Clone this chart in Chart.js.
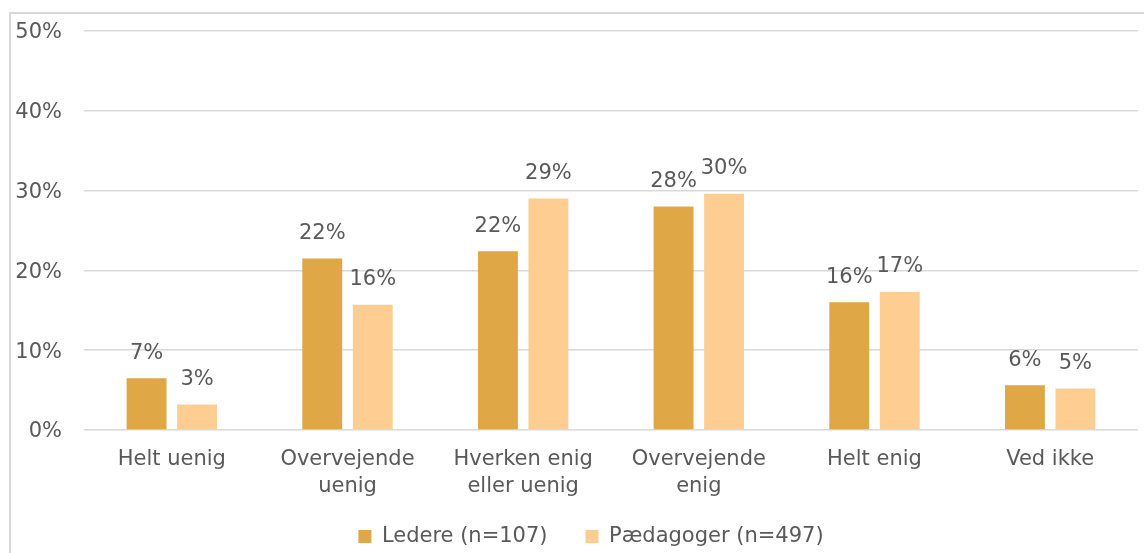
<!DOCTYPE html>
<html>
<head>
<meta charset="utf-8">
<script src="https://cdn.jsdelivr.net/npm/chart.js@4/dist/chart.umd.min.js"></script>
<style>
  html, body { margin: 0; padding: 0; background: #fff; }
  #wrap { position: relative; width: 1144px; height: 553px; overflow: hidden; }
  #frame { position: absolute; left: 9px; top: 12px; width: 1200px; height: 600px;
           border-left: 2px solid #d9d9d9; border-top: 2px solid #d9d9d9; box-sizing: border-box; }
  canvas { position: absolute; left: 0; top: 0; }
</style>
</head>
<body>
<div id="wrap">
  <div id="frame"></div>
  <canvas id="myBarChart" width="1144" height="553"></canvas>
</div>
<script>
// categories and series (percent)
var categories = [
  ["Helt uenig"],
  ["Overvejende", "uenig"],
  ["Hverken enig", "eller uenig"],
  ["Overvejende", "enig"],
  ["Helt enig"],
  ["Ved ikke"]
];
var ledereValues = [6.5, 21.5, 22.4, 28.0, 16.0, 5.6];
var paedagogValues = [3.2, 15.7, 29.0, 29.6, 17.3, 5.2];
var seriesNames = ["Ledere (n=107)", "Pædagoger (n=497)"];
var yTicks = [0, 10, 20, 30, 40, 50];

var textColor = "#595959";
var fontFamily = "'DejaVu Sans', Verdana, sans-serif";
var fontSize = 21;

//draw the value labels above each bar
var barLabels = {
  id: "barLabels",
  afterDatasetsDraw: function(chart) {
    var ctx = chart.ctx;
    ctx.save();
    ctx.font = fontSize + "px " + fontFamily;
    ctx.fillStyle = textColor;
    ctx.textAlign = "center";
    ctx.textBaseline = "middle";
    chart.data.datasets.forEach(function(ds, i) {
      var meta = chart.getDatasetMeta(i);
      meta.data.forEach(function(bar, j) {
        ctx.fillText(Math.round(ds.data[j]) + "%", bar.x, bar.y - 25);
      });
    });
    ctx.restore();
  }
};

//fix the legend height and draw it a bit higher and to the right
var legendTweak = {
  id: "legendTweak",
  beforeInit: function(chart) {
    var lg = chart.legend;
    var origFit = lg.fit;
    var origDraw = lg.draw;
    lg.fit = function() {
      origFit.bind(lg)();
      this.height = 53;
    };
    lg.draw = function() {
      var top = lg.top;
      lg.top = top - 12;
      lg.ctx.save();
      lg.ctx.translate(22, 0);
      origDraw.bind(lg)();
      lg.ctx.restore();
      lg.top = top;
    };
  }
};

var ctx = document.getElementById("myBarChart");
var myBarChart = new Chart(ctx, {
  type: "bar",
  data: {
    labels: categories,
    datasets: [{
      label: seriesNames[0],
      data: ledereValues,
      backgroundColor: "#dfa745",
      categoryPercentage: 0.575,
      barPercentage: 0.79
    }, {
      label: seriesNames[1],
      data: paedagogValues,
      backgroundColor: "#fdcd92",
      categoryPercentage: 0.575,
      barPercentage: 0.79
    }]
  },
  options: {
    responsive: false,
    animation: false,
    layout: { padding: { left: 0, right: 6, top: 0, bottom: 0 } },
    plugins: {
      legend: {
        position: "bottom",
        labels: {
          color: textColor,
          font: { family: fontFamily, size: fontSize },
          boxWidth: 13,
          boxHeight: 13,
          padding: 38
        }
      },
      tooltip: { enabled: false }
    },
    scales: {
      x: {
        afterFit: function(axis) { axis.height = 70; },
        grid: { display: false },
        border: { display: false },
        ticks: {
          color: textColor,
          font: { family: fontFamily, size: fontSize, lineHeight: 1.3 },
          maxRotation: 0,
          padding: 8
        }
      },
      y: {
        min: 0,
        max: 50,
        afterFit: function(axis) {
          axis.width = 84;
          axis.paddingTop = 31;
        },
        afterBuildTicks: function(axis) {
          axis.ticks = yTicks.map(function(v) { return { value: v }; });
        },
        grid: { color: "#d9d9d9", lineWidth: 1.5, drawTicks: false },
        border: { display: false },
        ticks: {
          color: textColor,
          font: { family: fontFamily, size: fontSize },
          padding: 22,
          labelOffset: 2,
          callback: function(v) { return v + "%"; }
        }
      }
    }
  },
  plugins: [barLabels, legendTweak]
});
</script>
</body>
</html>
